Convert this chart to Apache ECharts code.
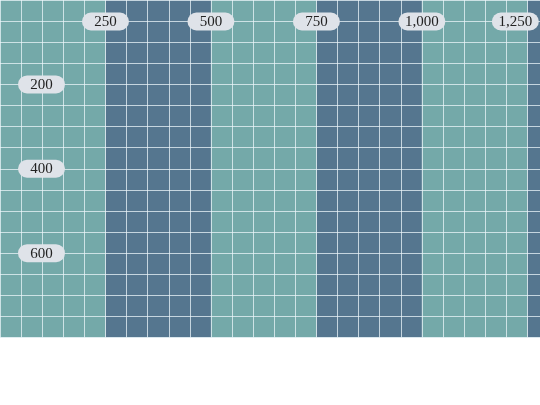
<!DOCTYPE html>
<html>
<head>
<meta charset="utf-8">
<script src="https://cdn.jsdelivr.net/npm/echarts@6/dist/echarts.min.js"></script>
<style>
  html, body { margin: 0; padding: 0; background: #fff; }
  #main { width: 540px; height: 405px; }
</style>
</head>
<body>
<div id="main"></div>
<script>
// 坐标范围与刻度
const xRange = [0, 1280];
const yRange = [0, 800];
const xLabels = [250, 500, 750, 1000, 1250];
const yLabels = [200, 400, 600];
const bandColors = ['#74a9a9', '#55768f'];

const chart = echarts.init(document.getElementById('main'));

const lineColor = 'rgba(235,245,250,0.75)';
// 标签胶囊样式
const richStyle = {
    b: {
        width: 47,
        align: 'center',
        color: '#222',
        fontFamily: 'Liberation Serif',
        fontSize: 15,
        lineHeight: 15,
        backgroundColor: '#dfe3e9',
        borderRadius: 9,
        padding: [2, 0, 1, 0]
    },
    s: {
        width: 24,
        fontSize: 15
    }
};

const option = {
    backgroundColor: '#fff',
    animation: false,
    grid: {
        left: 0,
        right: 0,
        top: 0,
        height: 337.5,
        containLabel: false,
        outerBoundsMode: 'none'
    },
    xAxis: [
        {
            // 背景色带和竖线
            type: 'value',
            position: 'bottom',
            z: 0,
            min: xRange[0],
            max: xRange[1],
            interval: 250,
            axisLine: { show: false },
            axisTick: { show: false },
            axisLabel: { show: false },
            splitArea: { show: true, areaStyle: { color: bandColors, opacity: 1 } },
            splitLine: { show: true, lineStyle: { color: lineColor, width: 1 } },
            minorTick: { show: false, splitNumber: 5 },
            minorSplitLine: { show: true, lineStyle: { color: lineColor, width: 1 } }
        },
        {
            // 顶部标签
            type: 'value',
            position: 'top',
            z: 2,
            min: xRange[0],
            max: xRange[1],
            interval: 250,
            axisLine: { show: false },
            axisTick: { show: false },
            splitLine: { show: false },
            axisLabel: {
                inside: true,
                margin: 14,
                showMinLabel: false,
                showMaxLabel: false,
                rich: richStyle,
                formatter: function (v) {
                    if (xLabels.indexOf(v) < 0) return '';
                    const txt = '{b|' + v.toLocaleString('en-US') + '}';
                    return v === xLabels[xLabels.length - 1] ? txt + '{s| }' : txt;
                }
            }
        }
    ],
    yAxis: {
        type: 'value',
        inverse: true,
        z: 1,
        min: yRange[0],
        max: yRange[1],
        interval: 200,
        axisLine: { show: false },
        axisTick: { show: false },
        axisLabel: {
            inside: true,
            margin: 18,
            showMinLabel: false,
            showMaxLabel: false,
            rich: richStyle,
            formatter: function (v) {
                return yLabels.indexOf(v) >= 0 ? '{b|' + v + '}' : '';
            }
        },
        splitArea: { show: false },
        splitLine: { show: true, lineStyle: { color: lineColor, width: 1 } },
        minorTick: { show: false, splitNumber: 4 },
        minorSplitLine: { show: true, lineStyle: { color: lineColor, width: 1 } }
    },
    series: [
        {
            type: 'scatter',
            xAxisIndex: 0,
            data: []
        }
    ]
};

chart.setOption(option);
</script>
</body>
</html>
